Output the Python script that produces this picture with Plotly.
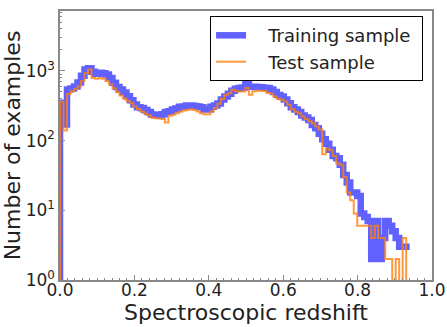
import numpy as np
import plotly.graph_objects as go

# 100 bins between z=0 and z=0.94
bin_edges = np.linspace(0.0, 0.94, 101)

train_counts = [
    350, 170, 540, 560, 600, 680, 850, 1050, 1090, 975,
    910, 940, 930, 890, 795, 676, 590, 540, 490, 435,
    380, 330, 302, 293, 275, 257, 238, 232, 230, 240,
    257, 265, 280, 290, 305, 310, 320, 320, 313, 310,
    300, 280, 280, 306, 320, 342, 390, 430, 470, 520,
    555, 570, 580, 690, 595, 593, 590, 585, 575, 570,
    540, 498, 450, 430, 390, 345, 300, 280, 257, 230,
    215, 197, 168, 150, 125, 105, 90, 74, 60, 56,
    45, 32, 25, 18, 18, 16, 9, 8, 7, 2,
    7, 2, 4, 7, 6, 5, 4, 3, 3, 3,
]

test_counts = [
    360, 140, 465, 510, 550, 600, 710, 935, 1045, 790,
    770, 790, 770, 720, 645, 565, 495, 445, 405, 370,
    345, 310, 285, 262, 245, 232, 215, 210, 208, 205,
    182, 227, 235, 248, 260, 271, 275, 283, 275, 262,
    248, 240, 240, 262, 293, 338, 395, 455, 480, 537,
    510, 508, 508, 568, 455, 510, 520, 520, 515, 481,
    470, 430, 400, 385, 365, 327, 283, 260, 248, 222,
    205, 190, 178, 160, 145, 64, 77, 73, 60, 47,
    45, 30, 18, 14, 9, 6, 6, 6, 6, 4,
    6, 4, 4, 2, 2, 0, 2, 0, 4, 0,
]

x_ticks = [0.0, 0.2, 0.4, 0.6, 0.8, 1.0]
y_ticks = [1, 10, 100, 1000]
y_ticktext = ['10<sup>0</sup>', '10<sup>1</sup>', '10<sup>2</sup>', '10<sup>3</sup>']


def step_outline(counts):
    # histogram outline like histtype='step'; empty bins drop below the axis
    c = [v if v > 0 else 1e-2 for v in counts]
    xs = [bin_edges[0]] + list(bin_edges)
    ys = [1e-2] + c + [c[-1]]
    return xs, ys


pad = '\u00a0\u00a0\u00a0'

fig = go.Figure()

x, y = step_outline(train_counts)
fig.add_trace(go.Scatter(
    x=x, y=y, mode='lines', line_shape='hv',
    line=dict(color='rgba(0,0,255,0.62)', width=6.5),
    name=pad + 'Training sample\u00a0'
))

x, y = step_outline(test_counts)
fig.add_trace(go.Scatter(
    x=x, y=y, mode='lines', line_shape='hv',
    line=dict(color='rgba(255,127,14,0.8)', width=2),
    name=pad + 'Test sample'
))

minor_y = [m * 10 ** k for k in range(0, 4) for m in range(2, 10)]

fig.update_xaxes(
    range=[0, 1],
    tickvals=x_ticks,
    ticktext=['%.1f' % v for v in x_ticks],
    ticks='inside', ticklen=5, tickcolor='#888',
    ticklabelstandoff=-6,
    showline=True, linecolor='#888', linewidth=1.5, mirror=True,
    showgrid=False, zeroline=False, automargin=False,
    minor=dict(ticks='inside', ticklen=2.5, dtick=0.02, tickcolor='#888', showgrid=False),
    tickfont=dict(size=17, color='#222'),
    title=dict(text='Spectroscopic redshift', font=dict(size=22, color='#222'), standoff=1),
)
fig.update_yaxes(
    type='log',
    range=[0, 3.86],
    tickvals=y_ticks,
    ticktext=y_ticktext,
    ticks='inside', ticklen=5, tickcolor='#888',
    showline=True, linecolor='#888', linewidth=1.5, mirror=True,
    showgrid=False, zeroline=False, automargin=False,
    minor=dict(ticks='inside', ticklen=2.5, tickvals=minor_y, tickcolor='#888', showgrid=False),
    tickfont=dict(size=17, color='#222'),
    title=dict(text='Number of examples', font=dict(size=22, color='#222'), standoff=2),
)

fig.update_layout(
    width=447, height=327,
    margin=dict(l=60, r=15, t=11, b=47),
    paper_bgcolor='white', plot_bgcolor='white',
    font=dict(family='DejaVu Sans', color='#222'),
    legend=dict(
        x=0.976, y=0.981, xanchor='right', yanchor='top',
        bgcolor='white', bordercolor='black', borderwidth=1,
        font=dict(size=18, color='#222'),
    ),
)

fig.write_html("out.html", config={'displayModeBar': False},
               post_script="document.body.style.margin = '0';")
